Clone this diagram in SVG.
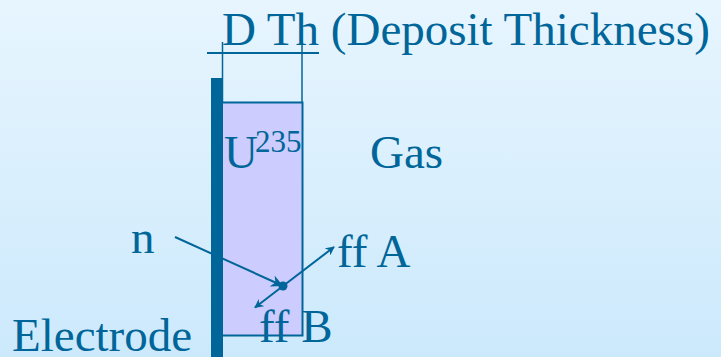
<svg xmlns="http://www.w3.org/2000/svg" width="721" height="357" viewBox="0 0 721 357">
  <defs>
    <linearGradient id="bg" x1="0" y1="0" x2="0" y2="1">
      <stop offset="0" stop-color="#e7f5fe"/>
      <stop offset="1" stop-color="#cce9fc"/>
    </linearGradient>
    <marker id="arr" viewBox="0 0 10 10" refX="9" refY="5" markerWidth="9" markerHeight="9" markerUnits="userSpaceOnUse" orient="auto">
      <path d="M0,0 L10,5 L0,10 L3,5 Z" fill="#006699"/>
    </marker>
    <marker id="arrBig" viewBox="0 0 10 10" refX="9" refY="5" markerWidth="12" markerHeight="12" markerUnits="userSpaceOnUse" orient="auto">
      <path d="M0,0 L10,5 L0,10 L3,5 Z" fill="#006699"/>
    </marker>
  </defs>
  <style>
    .big { font-size: 47px; }
    .sup { font-size: 31px; }
    .ln { stroke: #006699; stroke-width: 2; fill: none; }
    .thin { stroke: #006699; stroke-width: 1.5; fill: none; }
  </style>
  <rect x="0" y="0" width="721" height="357" fill="url(#bg)"/>

  <g font-family="Liberation Serif, DejaVu Serif, serif" fill="#006699">
  <g id="deposit">
    <rect x="222" y="102.5" width="80.5" height="233" fill="#ccccff" stroke="#006699" stroke-width="2"/>
    <text class="big" x="224" y="168">U</text>
    <text class="sup" x="255" y="152">235</text>
  </g>

  <g id="electrode">
    <rect x="211" y="78" width="12" height="279" fill="#006699"/>
    <text class="big" x="12" y="351">Electrode</text>
  </g>

  <g id="thickness">
    <line class="thin" x1="222.5" y1="42" x2="222.5" y2="102"/>
    <line class="thin" x1="302" y1="42" x2="302" y2="102"/>
    <line class="ln" x1="207" y1="53" x2="319" y2="53"/>
    <text class="big" x="222" y="45">D Th (Deposit Thickness)</text>
  </g>

  <g id="gas">
    <text class="big" x="370" y="168">Gas</text>
  </g>

  <g id="n-label">
    <text class="big" x="131" y="253">n</text>
  </g>
  <g id="ffA-label">
    <text class="big" x="337" y="267">ff A</text>
  </g>
  <g id="ffB-label">
    <text class="big" x="259" y="342">ff B</text>
  </g>
  </g>

  <g id="connectors">
    <line class="ln" x1="175" y1="237" x2="282" y2="285.5" marker-end="url(#arrBig)"/>
    <line class="ln" x1="283" y1="286" x2="334" y2="247" marker-end="url(#arr)"/>
    <line class="ln" x1="283" y1="286" x2="255" y2="307.5" marker-end="url(#arr)"/>
    <circle cx="283" cy="286" r="4.5" fill="#006699"/>
  </g>
</svg>
